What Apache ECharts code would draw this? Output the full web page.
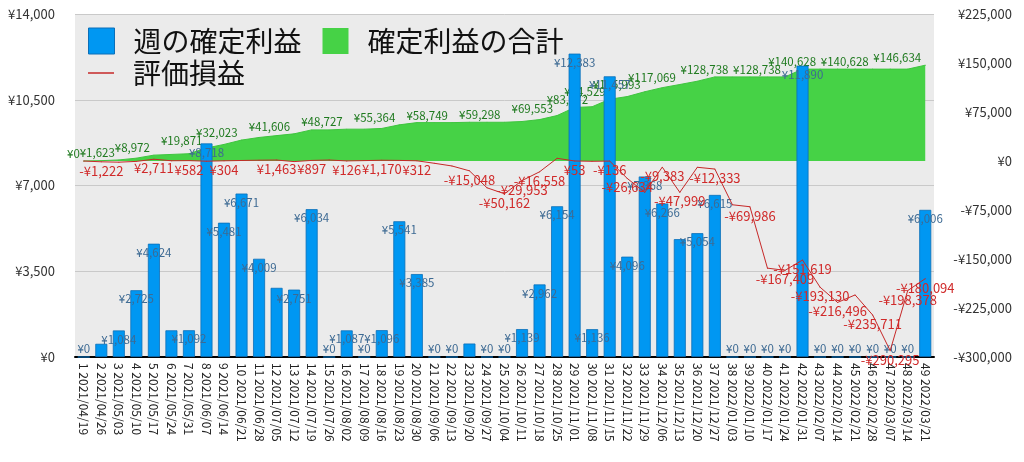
<!DOCTYPE html>
<html>
<head>
<meta charset="utf-8">
<script src="https://cdn.jsdelivr.net/npm/echarts@6/dist/echarts.min.js"></script>
<style>
  html, body { margin: 0; padding: 0; background: #fff; }
  #chart { width: 1024px; height: 462px; }
</style>
</head>
<body>
<div id="chart"></div>
<script>
const weeks = [
  '2021/04/19', '2021/04/26', '2021/05/03', '2021/05/10', '2021/05/17', '2021/05/24', '2021/05/31',
  '2021/06/07', '2021/06/14', '2021/06/21', '2021/06/28', '2021/07/05', '2021/07/12', '2021/07/19',
  '2021/07/26', '2021/08/02', '2021/08/09', '2021/08/16', '2021/08/23', '2021/08/30', '2021/09/06',
  '2021/09/13', '2021/09/20', '2021/09/27', '2021/10/04', '2021/10/11', '2021/10/18', '2021/10/25',
  '2021/11/01', '2021/11/08', '2021/11/15', '2021/11/22', '2021/11/29', '2021/12/06', '2021/12/13',
  '2021/12/20', '2021/12/27', '2022/01/03', '2022/01/10', '2022/01/17', '2022/01/24', '2022/01/31',
  '2022/02/07', '2022/02/14', '2022/02/21', '2022/02/28', '2022/03/07', '2022/03/14', '2022/03/21'
]

// 週の確定利益
const weeklyProfit = [
  0, 539, 1084, 2725, 4624, 1089, 1092, 8718, 5481, 6671, 4009, 2823, 2751, 6034,
  0, 1087, 0, 1096, 5541, 3385, 0, 0, 549, 0, 0, 1139, 2962, 6154,
  12383, 1136, 11457, 4096, 7368, 6266, 4810, 5054, 6615, 0, 0, 0, 0, 11890,
  0, 0, 0, 0, 0, 0, 6006
]

// 確定利益の合計
const totalProfit = [
  0, 539, 1623, 4348, 8972, 10061, 11153, 19871, 25352, 32023, 36032, 38855, 41606, 47640,
  47640, 48727, 48727, 49823, 55364, 58749, 58749, 58749, 59298, 59298, 59298, 60437, 63399, 69553,
  81936, 83072, 94529, 98625, 105993, 112259, 117069, 122123, 128738, 128738, 128738, 128738, 128738, 140628,
  140628, 140628, 140628, 140628, 140628, 140628, 146634
]

// 評価損益
const unrealized = [
  0, -1222, -1800, -600, 2711, 400, 582, -300, 304, 800, 1200, 1463, -900, 897,
  1500, 126, 600, 1170, 900, 312, -3500, -7600, -15048, -41000, -50162, -29953, -16558, 4100,
  53, -500, -136, -26634, -48000, -9383, -47999, -9600, -12333, -67000, -69986, -164000, -167409, -151619,
  -193130, -216496, -205000, -235711, -290295, -198378, -180094
]

const leftTicks = { min: 0, max: 14000, interval: 3500 }
const rightTicks = { min: -300000, max: 225000, interval: 75000 }

// which points carry a visible value label in the picture (1-based week numbers)
const barLabelHidden = [2, 6, 12, 23, 35]
const totalLabelShown = [1, 3, 5, 8, 10, 13, 16, 19, 22, 25, 28, 30, 31, 33, 35, 38, 41, 43, 46, 49]
const unrealLabelShown = [2, 5, 7, 9, 12, 14, 16, 18, 20, 23, 25, 26, 27, 29, 31, 32, 34, 35, 37, 39, 41, 42, 43, 44, 46, 47, 48, 49]

const FONT = '"Noto Sans CJK JP", "Noto Sans", sans-serif'

function yen(v) {
  const s = '¥' + Math.abs(v).toLocaleString('en-US')
  return v < 0 ? '-' + s : s
}

const categories = weeks.map((d, i) => (i + 1) + ' ' + d)

const barData = weeklyProfit.map((v, i) => ({
  value: v,
  label: {
    show: !barLabelHidden.includes(i + 1),
    position: v === 0 ? 'top' : 'insideTop',
    distance: v === 0 ? 2 : 3
  }
}))

const totalData = totalProfit.map((v, i) => ({
  value: v,
  label: { show: totalLabelShown.includes(i + 1) }
}))

const unrealData = unrealized.map((v, i) => ({
  value: v,
  label: { show: unrealLabelShown.includes(i + 1) }
}))

const chart = echarts.init(document.getElementById('chart'))

chart.setOption({
  animation: false,
  textStyle: { fontFamily: FONT },
  grid: {
    left: 75, right: 90, top: 14, bottom: 105,
    show: true, backgroundColor: '#ebebeb', borderWidth: 0
  },
  legend: [
    {
      left: 83, top: 22,
      itemWidth: 26, itemHeight: 26, itemGap: 21,
      textStyle: { fontSize: 28, color: '#111', fontFamily: FONT, padding: [0, 0, 0, 14] },
      data: [
        { name: '週の確定利益', icon: 'rect', itemStyle: { color: '#0097f2', borderColor: '#0b6fb8', borderWidth: 1 } },
        { name: '確定利益の合計', icon: 'rect', itemStyle: { color: '#46d246' } }
      ]
    },
    {
      left: 83, top: 54,
      itemWidth: 26, itemHeight: 1.5,
      textStyle: { fontSize: 28, color: '#111', fontFamily: FONT, padding: [0, 0, 0, 14] },
      data: [{ name: '評価損益', icon: 'rect', itemStyle: { color: '#c62828' } }]
    }
  ],
  xAxis: {
    type: 'category',
    data: categories,
    axisTick: { show: false },
    axisLine: { lineStyle: { color: '#000', width: 2 } },
    axisLabel: { interval: 0, rotate: -90, margin: 6, fontSize: 12, color: '#222', fontFamily: FONT }
  },
  yAxis: [
    {
      type: 'value',
      ...leftTicks,
      axisLine: { show: false },
      axisTick: { show: false },
      splitLine: { lineStyle: { color: '#c9c9c9', width: 1 } },
      axisLabel: { formatter: yen, fontSize: 13, color: '#333', margin: 20, fontFamily: FONT }
    },
    {
      type: 'value',
      ...rightTicks,
      axisLine: { show: false },
      axisTick: { show: false },
      splitLine: { show: false },
      axisLabel: { formatter: yen, fontSize: 13, color: '#333', margin: 78, align: 'right', fontFamily: FONT }
    }
  ],
  series: [
    {
      name: '確定利益の合計',
      type: 'line',
      yAxisIndex: 1,
      data: totalData,
      z: 1,
      symbol: 'circle',
      symbolSize: 1,
      itemStyle: { color: '#3fc43f' },
      lineStyle: { color: '#3fc43f', width: 1 },
      areaStyle: { color: '#46d246', opacity: 1 },
      label: {
        position: 'top',
        align: 'right',
        offset: [-4, 4],
        fontSize: 11.5,
        color: '#1f7a1f',
        formatter: p => yen(p.value)
      }
    },
    {
      name: '週の確定利益',
      type: 'bar',
      yAxisIndex: 0,
      data: barData,
      z: 2,
      barWidth: 12,
      itemStyle: { color: '#0097f2', borderColor: '#0b6fb8', borderWidth: 0.8 },
      label: {
        fontSize: 11.5,
        color: '#3d6a93',
        formatter: p => yen(p.value)
      }
    },
    {
      name: '評価損益',
      type: 'line',
      yAxisIndex: 1,
      data: unrealData,
      z: 3,
      symbol: 'circle',
      symbolSize: 1,
      itemStyle: { color: '#c62828' },
      lineStyle: { color: '#c62828', width: 1 },
      label: {
        position: 'bottom',
        distance: 2,
        fontSize: 13,
        color: '#d02a2a',
        formatter: p => yen(p.value)
      }
    }
  ]
})
</script>
</body>
</html>
